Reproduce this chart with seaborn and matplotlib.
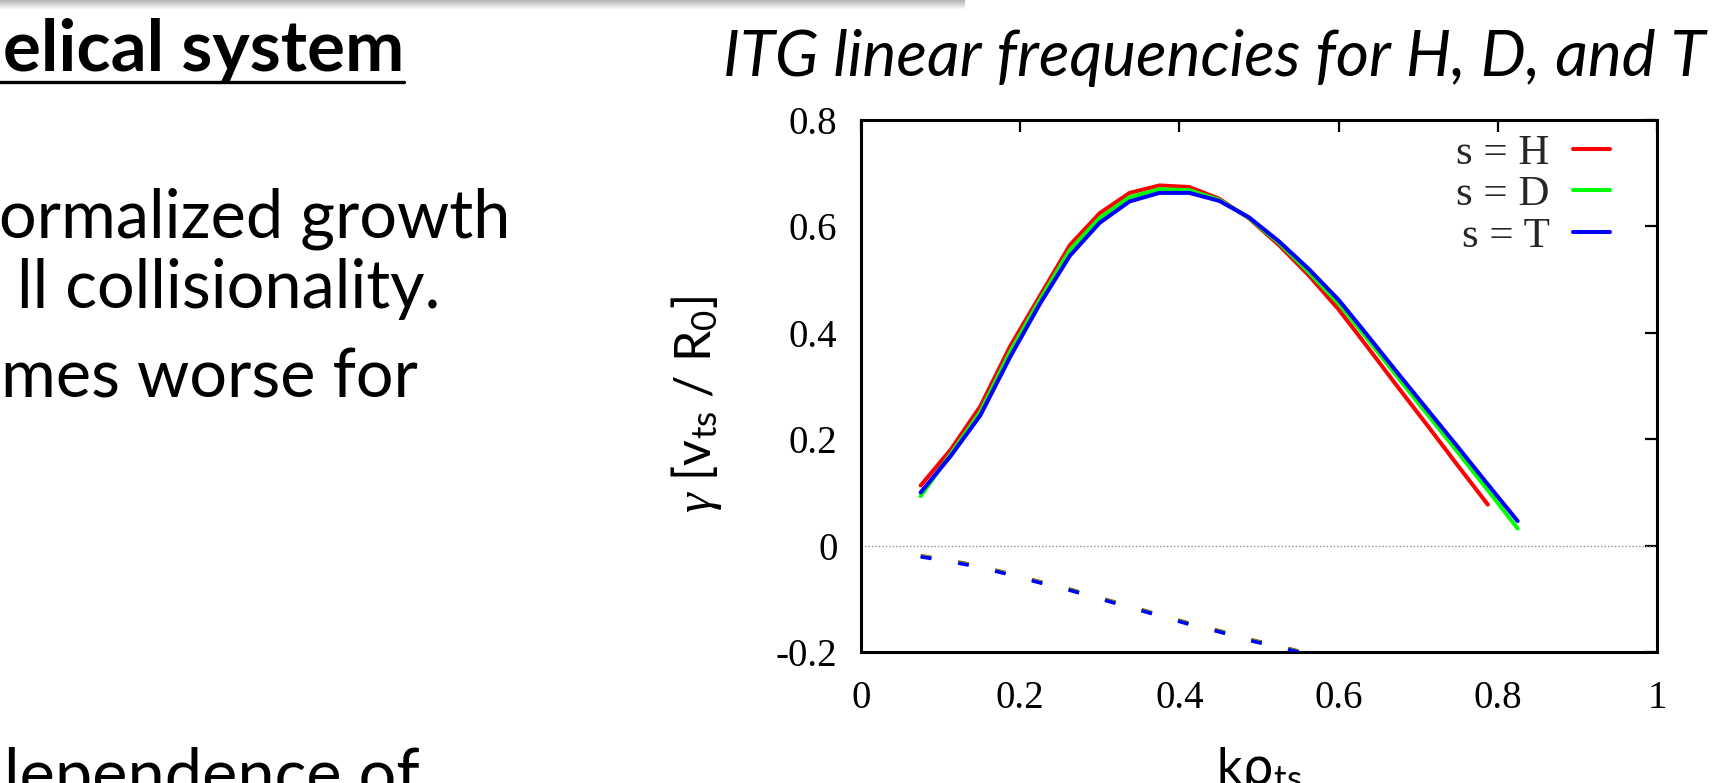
import numpy as np
import pandas as pd
import matplotlib
matplotlib.use("Agg")
import matplotlib.pyplot as plt
import seaborn as sns
from matplotlib.lines import Line2D
from matplotlib.patches import Rectangle

# ---------------- data ----------------
species = ["H", "D", "T"]
k_H = [0.075, 0.1125, 0.15, 0.1875, 0.225, 0.2625, 0.3, 0.3375, 0.375, 0.4125,
       0.45, 0.4875, 0.525, 0.5625, 0.6, 0.6375, 0.675, 0.7125, 0.75, 0.7875]
k_DT = k_H + [0.825]
gamma_H = [0.113, 0.180, 0.262, 0.375, 0.470, 0.565, 0.625, 0.663, 0.677, 0.674,
           0.652, 0.615, 0.565, 0.508, 0.444, 0.371, 0.297, 0.224, 0.150, 0.077]
gamma_D = [0.093, 0.172, 0.252, 0.365, 0.463, 0.556, 0.616, 0.655, 0.670, 0.668,
           0.650, 0.616, 0.569, 0.514, 0.455, 0.386, 0.315, 0.245, 0.175, 0.104, 0.032]
gamma_T = [0.100, 0.168, 0.245, 0.355, 0.455, 0.545, 0.607, 0.647, 0.663, 0.663,
           0.648, 0.617, 0.572, 0.520, 0.462, 0.393, 0.323, 0.254, 0.185, 0.115, 0.046]

k_w = [0.075, 0.1125, 0.15, 0.1875, 0.225, 0.2625, 0.3, 0.3375, 0.375, 0.4125,
       0.45, 0.4875, 0.525, 0.5625]
omega_H = [-0.019, -0.028, -0.039, -0.053, -0.068, -0.082, -0.098, -0.114, -0.130,
           -0.146, -0.160, -0.176, -0.189, -0.203]
omega_D = [-0.020, -0.029, -0.040, -0.054, -0.069, -0.083, -0.099, -0.115, -0.131,
           -0.147, -0.161, -0.177, -0.190, -0.204]
omega_T = [-0.021, -0.030, -0.041, -0.055, -0.070, -0.084, -0.100, -0.116, -0.132,
           -0.148, -0.162, -0.178, -0.191, -0.205]

xticks = [0, 0.2, 0.4, 0.6, 0.8, 1]
xticklabels = ["0", "0.2", "0.4", "0.6", "0.8", "1"]
yticks = [-0.2, 0, 0.2, 0.4, 0.6, 0.8]
yticklabels = ["-0.2", "0", "0.2", "0.4", "0.6", "0.8"]
legend_labels = ["s = H", "s = D", "s = T"]

title = "ITG linear frequencies for H, D, and T"
heading = "elical system"
body_lines = ["ormalized growth", "ll collisionality.", "mes worse for", "lependence of"]

colors = {"H": "#ff0000", "D": "#00ff00", "T": "#0000ff"}

# ---------------- tables ----------------
df_g = pd.concat([
    pd.DataFrame({"k": k_H, "val": gamma_H, "species": "H"}),
    pd.DataFrame({"k": k_DT, "val": gamma_D, "species": "D"}),
    pd.DataFrame({"k": k_DT, "val": gamma_T, "species": "T"}),
], ignore_index=True)
df_w = pd.concat([
    pd.DataFrame({"k": k_w, "val": omega_H, "species": "H"}),
    pd.DataFrame({"k": k_w, "val": omega_D, "species": "D"}),
    pd.DataFrame({"k": k_w, "val": omega_T, "species": "T"}),
], ignore_index=True)

# ---------------- style ----------------
sns.set_theme(style="white")
plt.rcParams["font.family"] = ["Lato", "DejaVu Sans"]
plt.rcParams["mathtext.fontset"] = "custom"
plt.rcParams["mathtext.rm"] = "Lato"
plt.rcParams["mathtext.it"] = "Liberation Serif:italic"
plt.rcParams["mathtext.sf"] = "DejaVu Sans"

W, H = 1712, 783
fig = plt.figure(figsize=(W / 100, H / 100), dpi=100)
fig.patch.set_facecolor("white")

ax = fig.add_axes([861 / W, 1 - 652 / H, 796 / W, 532 / H])
ax.set_facecolor("white")

ax.axhline(0, color="#8f8f8f", lw=1.0, ls=(0, (1, 1.5)), zorder=1)

sns.lineplot(data=df_g, x="k", y="val", hue="species", hue_order=species,
             palette=colors, linewidth=2.9, estimator=None, sort=False,
             legend=False, ax=ax, zorder=3)
sns.lineplot(data=df_w, x="k", y="val", hue="species", hue_order=species,
             palette=colors, linewidth=2.6, estimator=None, sort=False,
             legend=False, ax=ax, linestyle=(0, (3.0, 7.5)), zorder=3)

ax.set_xlim(0, 1)
ax.set_ylim(-0.2, 0.8)
ax.set_xticks(xticks)
ax.set_xticklabels(xticklabels)
ax.set_yticks(yticks)
ax.set_yticklabels(yticklabels)
ax.tick_params(direction="in", length=8.5, width=1.6, top=True, right=True,
               labelsize=28, colors="black")
ax.tick_params(axis="x", pad=20)
ax.tick_params(axis="y", pad=17)
for lbl in ax.get_xticklabels() + ax.get_yticklabels():
    lbl.set_fontfamily("Liberation Serif")
for sp in ax.spines.values():
    sp.set_visible(True)
    sp.set_color("black")
    sp.set_linewidth(2.2)

ax.set_xlabel(r"k$\mathsf{\rho}_{\rm ts}$", fontsize=36, labelpad=20, color="black")
ax.set_ylabel(r"$\gamma$ [v$_{\rm ts}$ / R$_{\rm 0}$]", fontsize=36, color="black")
ax.yaxis.set_label_coords(-0.172, 0.466)

handles = [Line2D([], [], color=colors[s], lw=2.9) for s in species]
leg = ax.legend(handles, legend_labels, loc="upper right",
                bbox_to_anchor=((1610 - 861) / 796, (652 - 134) / 532),
                frameon=False, markerfirst=False, borderaxespad=0, borderpad=0,
                handlelength=0.85, handletextpad=0.55, labelspacing=0.05,
                prop={"family": "Liberation Serif", "size": 31})

# title
fig.text(1214 / W, 1 - 76 / H, title, ha="center", va="baseline",
         fontsize=46, style="italic", color="black")

# left slide text
t_head = fig.text(404 / W, 1 - 71 / H, heading, ha="right", va="baseline",
                  fontsize=51, fontweight="bold", color="black")
body_base = [238, 308, 398, 797]
body_right = [510, 440, 418, 420]
for txt, yb, xr in zip(body_lines, body_base, body_right):
    fig.text(xr / W, 1 - yb / H, txt, ha="right", va="baseline",
             fontsize=48, color="black")

# underline of the heading
fig.canvas.draw()
bb = t_head.get_window_extent(fig.canvas.get_renderer())
fig.add_artist(Line2D([0, bb.x1 / W], [1 - 82 / H, 1 - 82 / H],
                      transform=fig.transFigure, color="black", lw=2.4))

# shadow of the box at the top of the slide
for i in range(9):
    fig.add_artist(Rectangle((0, 1 - (i + 1) / H), 965 / W, 1 / H,
                             transform=fig.transFigure, color="#7a7a7a",
                             alpha=0.55 * (1 - i / 9), lw=0))

fig.savefig("out.png", dpi=100, facecolor="white")
